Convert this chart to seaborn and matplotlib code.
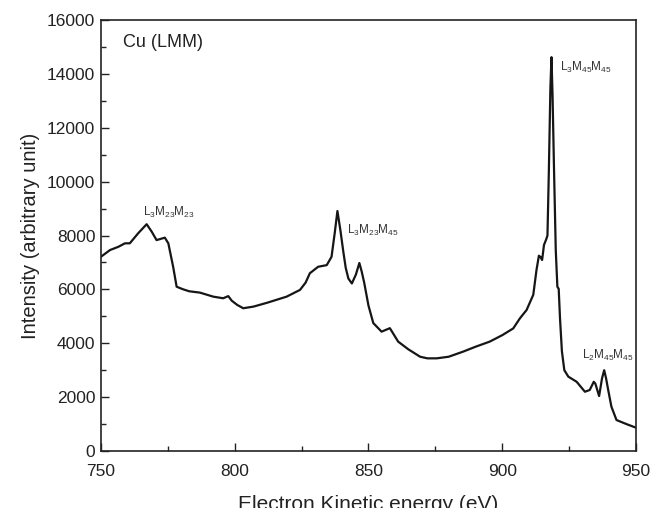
import numpy as np
import pandas as pd
import matplotlib
matplotlib.use("Agg")
import matplotlib.pyplot as plt
from matplotlib.ticker import MultipleLocator
import seaborn as sns

# ---- data ----
energy_ev = [750, 753.4, 756.5, 759, 760.8, 763.9, 767.1, 769, 770.8, 773.9,
             775.2, 777, 778.3, 779.5, 780.8, 783, 787, 792, 795.7, 797.6,
             798.9, 801, 803.2, 807, 812, 819.4, 824.4, 826.5, 828.1, 831.2,
             834.4, 836.2, 837.4, 838.4, 839.5, 840.6, 841.5, 842.5, 843.8, 845.3,
             846.6, 847.5, 848.4, 850, 851.8, 854.9, 858, 861.1, 864.9, 869.3,
             872, 875.5, 880, 885.4, 890, 895.3, 900, 904.1, 906.6, 909.1,
             911.6, 912.8, 913.7, 914.3, 914.9, 915.6, 916.4, 916.9, 917.4, 918.0,
             918.4, 918.8, 919.3, 920.0, 920.6, 921.1, 921.6, 922.3, 923.2, 924.7,
             927.8, 930.9, 932.7, 934.2, 934.8, 936.2, 937.3, 938.1, 938.8, 939.6,
             940.8, 942.7, 946.4, 950]
intensity = [7210, 7460, 7580, 7710, 7710, 8080, 8420, 8140, 7830, 7920,
             7710, 6840, 6100, 6050, 6000, 5930, 5880, 5730, 5670, 5750,
             5580, 5420, 5300, 5360, 5500, 5730, 5980, 6250, 6600, 6840,
             6900, 7210, 8100, 8910, 8200, 7400, 6800, 6400, 6220, 6550,
             6980, 6650, 6250, 5400, 4750, 4430, 4560, 4060, 3775, 3500,
             3440, 3440, 3500, 3690, 3870, 4060, 4300, 4550, 4925, 5235,
             5800, 6720, 7250, 7200, 7090, 7650, 7850, 8000, 10300, 13500,
             14620, 13200, 10700, 7460, 6100, 6020, 4900, 3700, 3000, 2760,
             2570, 2200, 2265, 2570, 2500, 2040, 2700, 3000, 2700, 2265,
             1645, 1150, 1000, 865]

peak_labels = [r"L$_3$M$_{23}$M$_{23}$", r"L$_3$M$_{23}$M$_{45}$",
               r"L$_3$M$_{45}$M$_{45}$", r"L$_2$M$_{45}$M$_{45}$"]
peak_label_x = [765.6, 841.8, 921.6, 929.7]
peak_label_y = [8850, 8170, 14250, 3560]

x_ticks = [750, 800, 850, 900, 950]
y_ticks = [0, 2000, 4000, 6000, 8000, 10000, 12000, 14000, 16000]

df = pd.DataFrame({"energy": energy_ev, "intensity": intensity})

sns.set_theme(style="ticks")
plt.rcParams["font.family"] = ["Liberation Sans", "DejaVu Sans"]
plt.rcParams["mathtext.fontset"] = "custom"
plt.rcParams["mathtext.rm"] = "Liberation Sans"
plt.rcParams["mathtext.it"] = "Liberation Sans:italic"
plt.rcParams["mathtext.bf"] = "Liberation Sans:bold"

fig = plt.figure(figsize=(6.51, 5.08), dpi=100)
ax = fig.add_axes([0.155, 0.1122, 0.822, 0.8484])

sns.lineplot(data=df, x="energy", y="intensity", ax=ax, color="#161616",
             linewidth=1.6, estimator=None, sort=False)

ax.set_xlim(750, 950)
ax.set_ylim(0, 16000)
ax.set_xticks(x_ticks)
ax.set_yticks(y_ticks)
ax.xaxis.set_minor_locator(MultipleLocator(25))
ax.yaxis.set_minor_locator(MultipleLocator(1000))
ax.tick_params(which="major", direction="in", length=6, width=1.0,
               labelsize=12.5, colors="#222222")
ax.tick_params(which="minor", direction="in", length=3.5, width=1.0,
               colors="#222222")
ax.tick_params(axis="x", which="major", pad=9)
ax.tick_params(axis="y", which="major", pad=4)
ax.tick_params(axis="x", top=False, which="both")
ax.tick_params(axis="y", right=False, which="both")
for sp in ax.spines.values():
    sp.set_visible(True)
    sp.set_linewidth(1.2)
    sp.set_color("#222222")

ax.set_xlabel("Electron Kinetic energy (eV)", fontsize=15, color="#222222",
              labelpad=12)
ax.set_ylabel("Intensity (arbitrary unit)", fontsize=14.5, color="#222222",
              labelpad=5)

ax.text(0.041, 0.947, "Cu (LMM)", transform=ax.transAxes, fontsize=13,
        color="#222222", va="center", ha="left")
for lab, lx, ly in zip(peak_labels, peak_label_x, peak_label_y):
    ax.text(lx, ly, lab, fontsize=8.5, color="#333333", ha="left", va="center")

fig.savefig("out.png", dpi=100)
